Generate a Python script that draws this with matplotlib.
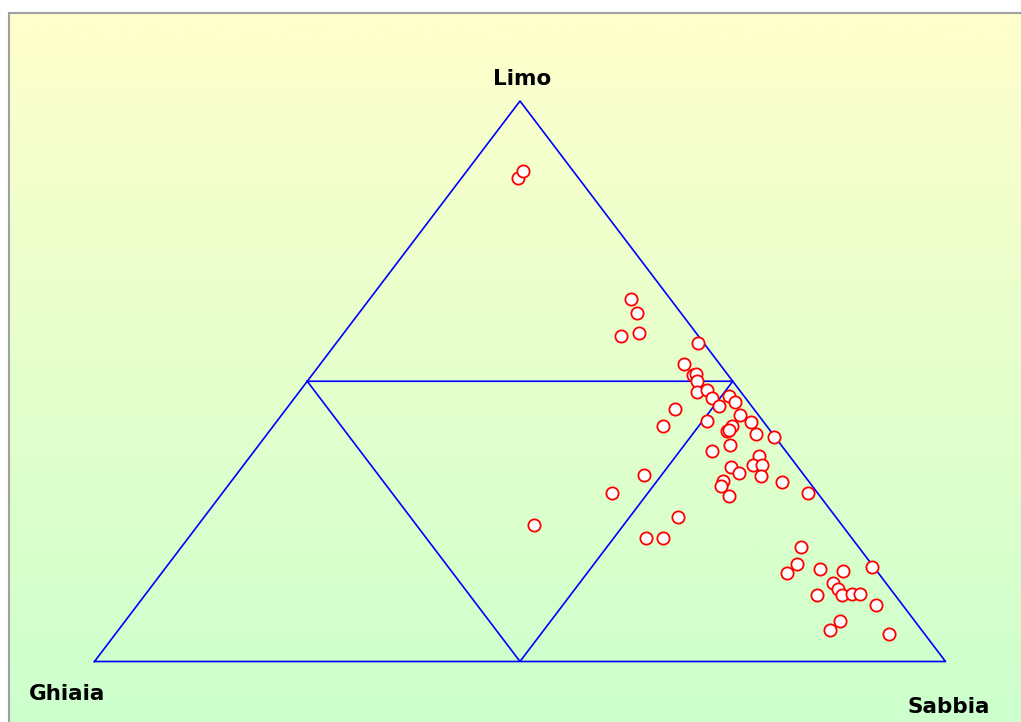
import numpy as np
import matplotlib
matplotlib.use("Agg")
import matplotlib.pyplot as plt
from matplotlib.colors import LinearSegmentedColormap

# Granulometric composition of each sample (percent)
ghiaia = [4.6, 5.1, 9.1, 6.7, 0.7, 4.2, 4.1, 3.7, 4.2, 5.2,
          3.8, 3.9, 1.7, 3.8, 1.6, 9.3, 2.1, 6.6, 1.5, 4.1,
          5.1, 4.8, 12.2, 2.0, 0.2, 6.0, 8.6, 3.6, 5.1, 4.0,
          7.8, 7.5, 5.1, 3.2, 18.8, 10.0, 10.7, 10.7, 24.1, 1.1,
          36.2, 18.5, 24.2, 22.2, 6.8, 8.7, 10.7, 6.5, 3.9, 0.2,
          6.2, 6.2, 6.2, 5.0, 4.1, 9.1, 3.1, 8.8, 10.8, 4.2,
          7.1, 5.9]
sabbia = [30.7, 32.7, 32.8, 34.7, 42.5, 42.7, 44.8, 45.0, 45.8, 46.7,
          47.8, 49.1, 50.9, 50.6, 52.1, 45.7, 53.9, 50.5, 55.8, 53.9,
          53.8, 53.9, 45.8, 57.4, 59.8, 55.4, 53.8, 59.7, 59.8, 60.9,
          57.5, 58.9, 61.8, 64.8, 47.9, 57.8, 58.0, 59.8, 45.8, 68.8,
          39.4, 55.7, 53.8, 55.8, 72.8, 73.9, 73.5, 77.0, 79.9, 82.9,
          79.8, 80.9, 81.9, 83.0, 83.9, 79.0, 86.8, 84.0, 83.6, 90.9,
          6.6, 6.6]
limo = [64.7, 62.2, 58.1, 58.6, 56.8, 53.1, 51.1, 51.3, 50.0, 48.1,
        48.4, 47.0, 47.4, 45.6, 46.3, 45.0, 44.0, 42.9, 42.7, 42.0,
        41.1, 41.3, 42.0, 40.6, 40.0, 38.6, 37.6, 36.7, 35.1, 35.1,
        34.7, 33.6, 33.1, 32.0, 33.3, 32.2, 31.3, 29.5, 30.1, 30.1,
        24.4, 25.8, 22.0, 22.0, 20.4, 17.4, 15.8, 16.5, 16.2, 16.9,
        14.0, 12.9, 11.9, 12.0, 12.0, 11.9, 10.1, 7.2, 5.6, 4.9,
        86.3, 87.5]

vertex_labels = ["Ghiaia", "Sabbia", "Limo"]


def to_xy(g, s, l):
    """Ternary (gravel, sand, silt) -> cartesian, gravel at left, sand at right, silt on top."""
    g, s, l = (np.asarray(v, dtype=float) for v in (g, s, l))
    tot = g + s + l
    return (s + 0.5 * l) / tot, l / tot


W, H = 1021, 722
fig = plt.figure(figsize=(W / 100, H / 100), dpi=100)
fig.patch.set_facecolor("white")

# Gradient panel: pale yellow at the top fading to pale green at the bottom
bg = fig.add_axes([9 / W, 0, 1 - 9 / W, (H - 13) / H])
cmap = LinearSegmentedColormap.from_list("yg", ["#FFFFCC", "#CCFFCC"])
grad = np.linspace(0, 1, 256).reshape(-1, 1)
bg.imshow(grad, aspect="auto", cmap=cmap, extent=[0, 1, 0, 1], origin="upper")
bg.set_xlim(0, 1)
bg.set_ylim(0, 1)
bg.set_axis_off()
fig.add_artist(plt.Line2D([9 / W, 9 / W], [0, (H - 13) / H], transform=fig.transFigure,
                          color="#A0A0A0", lw=1.5))
fig.add_artist(plt.Line2D([9 / W, 1], [(H - 13) / H, (H - 13) / H], transform=fig.transFigure,
                          color="#A0A0A0", lw=1.5))

ax = fig.add_axes([94.5 / W, (H - 661.5) / H, 851 / W, 560.5 / H])
ax.set_xlim(0, 1)
ax.set_ylim(0, 1)
ax.set_axis_off()
ax.patch.set_alpha(0)

# Outer triangle
corners = [(100, 0, 0), (0, 100, 0), (0, 0, 100), (100, 0, 0)]
cx, cy = to_xy(*zip(*corners))
ax.plot(cx, cy, color="#0000FF", lw=1.2, clip_on=False)

# Inner triangle joining the edge midpoints
mids = [(50, 0, 50), (0, 50, 50), (50, 50, 0), (50, 0, 50)]
mx, my = to_xy(*zip(*mids))
ax.plot(mx, my, color="#0000FF", lw=1.2, clip_on=False)

px, py = to_xy(ghiaia, sabbia, limo)
ax.plot(px, py, linestyle="none", marker="o", markersize=8.8,
        markerfacecolor="white", markeredgecolor="#FF0000", markeredgewidth=1.3,
        clip_on=False)

font = dict(fontsize=15.5, fontweight="bold", family="DejaVu Sans", color="black")
fig.text(522 / W, 1 - 79 / H, vertex_labels[2], ha="center", va="center", **font)
fig.text(29 / W, 1 - 694 / H, vertex_labels[0], ha="left", va="center", **font)
fig.text(990 / W, 1 - 707 / H, vertex_labels[1], ha="right", va="center", **font)

fig.savefig("out.png", dpi=100)
